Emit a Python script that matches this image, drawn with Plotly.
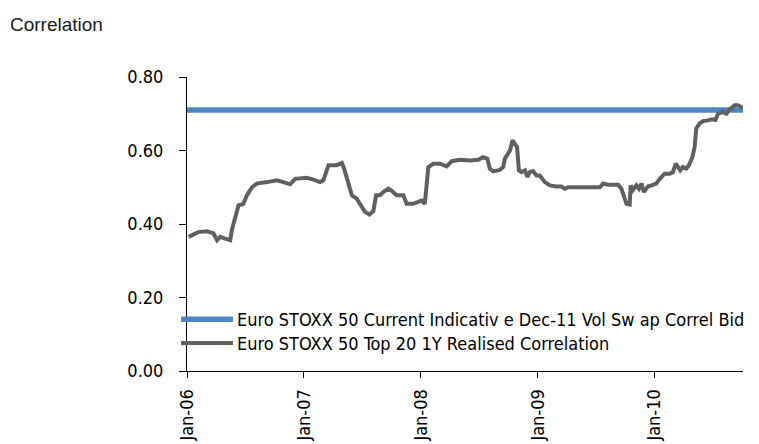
import plotly.graph_objects as go

# ---- data ----
swap_dates = ["2006-01-01", "2010-10-04"]
swap_values = [0.71, 0.71]

real_dates = [
    "2006-01-06", "2006-01-16", "2006-02-05", "2006-03-04", "2006-03-24", "2006-04-05",
    "2006-04-15", "2006-04-30", "2006-05-16", "2006-05-21", "2006-06-01", "2006-06-11",
    "2006-06-26", "2006-07-07", "2006-07-23", "2006-08-07", "2006-09-08", "2006-10-09",
    "2006-10-29", "2006-11-19", "2006-12-05", "2007-01-10", "2007-01-31", "2007-02-21",
    "2007-03-03", "2007-03-19", "2007-04-14", "2007-04-30", "2007-05-07", "2007-05-20",
    "2007-05-31", "2007-06-15", "2007-07-01", "2007-07-11", "2007-07-25", "2007-08-06",
    "2007-08-15", "2007-08-27", "2007-09-06", "2007-09-22", "2007-10-03", "2007-10-18",
    "2007-11-08", "2007-11-18", "2007-12-09", "2007-12-25", "2008-01-04", "2008-01-14",
    "2008-01-20", "2008-01-25", "2008-02-09", "2008-03-01", "2008-03-22", "2008-04-07",
    "2008-05-03", "2008-06-03", "2008-06-29", "2008-07-14", "2008-07-27", "2008-08-04",
    "2008-08-15", "2008-09-04", "2008-09-15", "2008-09-20", "2008-10-06", "2008-10-14",
    "2008-10-24", "2008-10-28", "2008-11-03", "2008-11-11", "2008-11-22", "2008-11-29",
    "2008-12-07", "2008-12-17", "2008-12-28", "2009-01-07", "2009-01-23", "2009-02-08",
    "2009-02-28", "2009-03-16", "2009-03-26", "2009-04-06", "2009-07-14", "2009-07-24",
    "2009-08-08", "2009-09-09", "2009-09-19", "2009-09-27", "2009-10-05", "2009-10-15",
    "2009-10-18", "2009-10-25", "2009-11-05", "2009-11-13", "2009-11-21", "2009-11-28",
    "2009-12-11", "2009-12-22", "2010-01-06", "2010-01-17", "2010-02-01", "2010-02-17",
    "2010-02-27", "2010-03-08", "2010-03-15", "2010-03-22", "2010-03-30", "2010-04-10",
    "2010-04-18", "2010-04-29", "2010-05-06", "2010-05-11", "2010-05-21", "2010-06-01",
    "2010-06-16", "2010-06-30", "2010-07-10", "2010-07-18", "2010-08-02", "2010-08-13",
    "2010-08-23", "2010-09-08", "2010-09-18", "2010-09-29", "2010-10-04",
]
real_values = [
    0.365, 0.370, 0.378, 0.380, 0.375, 0.356,
    0.365, 0.360, 0.356, 0.383, 0.419, 0.451,
    0.455, 0.478, 0.500, 0.510, 0.514, 0.519,
    0.514, 0.508, 0.523, 0.526, 0.521, 0.514,
    0.519, 0.560, 0.560, 0.566, 0.550, 0.510,
    0.478, 0.469, 0.446, 0.433, 0.426, 0.435,
    0.478, 0.478, 0.487, 0.496, 0.490, 0.478,
    0.478, 0.455, 0.455, 0.460, 0.464, 0.455,
    0.510, 0.555, 0.564, 0.564, 0.557, 0.571,
    0.575, 0.573, 0.575, 0.582, 0.578, 0.551,
    0.543, 0.547, 0.555, 0.578, 0.600, 0.628,
    0.614, 0.610, 0.546, 0.541, 0.546, 0.528,
    0.541, 0.544, 0.532, 0.532, 0.514, 0.505,
    0.502, 0.502, 0.496, 0.500, 0.500, 0.510,
    0.507, 0.507, 0.496, 0.478, 0.455, 0.453,
    0.505, 0.492, 0.505, 0.496, 0.510, 0.487,
    0.502, 0.505, 0.510, 0.523, 0.537, 0.537,
    0.541, 0.564, 0.555, 0.546, 0.555, 0.551,
    0.560, 0.582, 0.610, 0.660, 0.673, 0.680,
    0.682, 0.685, 0.683, 0.700, 0.705, 0.700,
    0.711, 0.723, 0.723, 0.716, 0.716,
]

x_tick_vals = ["2006-01-01", "2007-01-01", "2008-01-01", "2009-01-01", "2010-01-01"]
x_tick_text = ["Jan-06", "Jan-07", "Jan-08", "Jan-09", "Jan-10"]
y_tick_vals = [0.0, 0.2, 0.4, 0.6, 0.8]
y_tick_text = ["0.00", "0.20", "0.40", "0.60", "0.80"]

swap_name = "Euro STOXX 50 Current Indicativ e Dec-11 Vol Sw ap Correl Bid"
real_name = "Euro STOXX 50 Top 20 1Y Realised Correlation"

BLUE = "#4D87C1"
GREY = "#606063"
NARROW = "DejaVu Sans Condensed"

# page body has an 8px margin -> figure is 751x436 placed at (8, 8)
fig = go.Figure()
fig.add_trace(go.Scatter(x=swap_dates, y=swap_values, mode="lines", name=swap_name,
                         line=dict(color=BLUE, width=5.5), showlegend=False))
fig.add_trace(go.Scatter(x=real_dates, y=real_values, mode="lines", name=real_name,
                         line=dict(color=GREY, width=4), showlegend=False))

# manual legend (keys + labels)
for yk, col, txt, w in [(0.176, BLUE, swap_name, 5.5), (0.095, GREY, real_name, 4)]:
    fig.add_shape(type="line", xref="paper", yref="paper", x0=-0.0108, x1=0.0826,
                  y0=yk, y1=yk, line=dict(color=col, width=w))
    fig.add_annotation(xref="paper", yref="paper", x=0.0895, y=yk, text=txt,
                       showarrow=False, xanchor="left", yanchor="middle", xshift=-2,
                       font=dict(family=NARROW, size=18, color="#000000"))

fig.add_annotation(xref="paper", yref="paper", x=-0.318, y=1.18, text="Correlation",
                   showarrow=False, xanchor="left", yanchor="middle", xshift=-2,
                   font=dict(family="Liberation Sans, Arial, sans-serif", size=19, color="#1a1a1a"))

fig.update_layout(
    width=751, height=436,
    margin=dict(l=179, r=16, t=69, b=73, autoexpand=False),
    paper_bgcolor="white", plot_bgcolor="white",
    font=dict(family=NARROW, size=18, color="#000000"),
)
fig.update_xaxes(
    type="date", range=["2006-01-01", "2010-10-04"],
    tickmode="array", tickvals=x_tick_vals, ticktext=x_tick_text, tickangle=-90,
    ticks="outside", ticklen=6, tickcolor="#000000", showgrid=False, zeroline=False,
    showline=True, linecolor="#000000", linewidth=1, automargin=False,
    ticklabelstandoff=4, tickfont=dict(family=NARROW, size=18, color="#000000"),
)
fig.update_yaxes(
    range=[0, 0.8], tickmode="array", tickvals=y_tick_vals, ticktext=y_tick_text,
    ticks="outside", ticklen=7, tickcolor="#000000", showgrid=False, zeroline=False,
    showline=True, linecolor="#000000", linewidth=1, automargin=False,
    ticklabelstandoff=12, tickfont=dict(family=NARROW, size=18, color="#000000"),
)

fig.write_html("out.html")
